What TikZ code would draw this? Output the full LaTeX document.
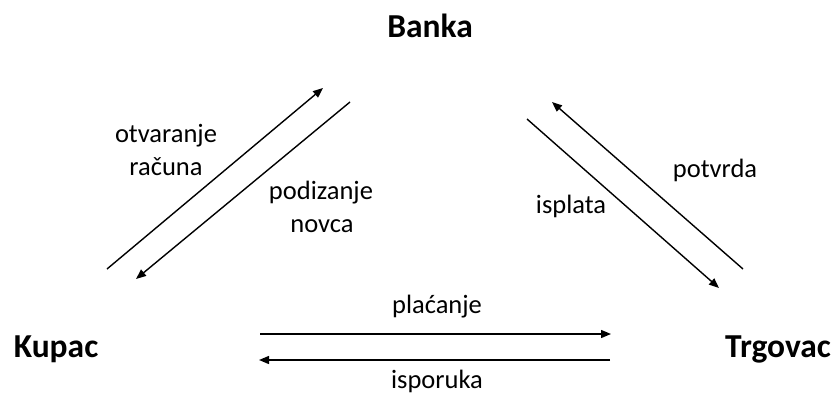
\documentclass[tikz,border=0pt]{standalone}
\usepackage{fontspec}
\setmainfont{Carlito}
\usetikzlibrary{arrows.meta}
\tikzset{
  party/.style={font=\fontsize{33.5}{36}\selectfont\bfseries, inner sep=0pt, anchor=base},
  lbl/.style={font=\fontsize{26.5}{30}\selectfont, inner sep=0pt, anchor=base},
  flow/.style={line width=1.4pt, -{Triangle[length=10pt,width=8pt]}}
}
\begin{document}
\begin{tikzpicture}[x=1pt,y=-1pt]
\useasboundingbox (0,0) rectangle (838,394);
% parties
\node[party] (banka) at (430,37) {Banka};
\node[party] (kupac) at (56,357) {Kupac};
\node[party, anchor=base west] (trgovac) at (725,357) {Trgovac};
% arrow end points
\coordinate (a1s) at (107,269);
\coordinate (a1e) at (323,88);
\coordinate (a2s) at (350,102);
\coordinate (a2e) at (136,279);
\coordinate (a3s) at (743,269);
\coordinate (a3e) at (552,102);
\coordinate (a4s) at (527,119);
\coordinate (a4e) at (719,288);
\coordinate (a5s) at (260,334);
\coordinate (a5e) at (611,334);
\coordinate (a6s) at (610,360);
\coordinate (a6e) at (259,360);
\draw[flow] (a1s) -- (a1e);
\draw[flow] (a2s) -- (a2e);
\draw[flow] (a3s) -- (a3e);
\draw[flow] (a4s) -- (a4e);
\draw[flow] (a5s) -- (a5e);
\draw[flow] (a6s) -- (a6e);
% labels
\node[lbl] (otv) at (166,142) {otvaranje};
\node[lbl] (rac) at (166,175) {računa};
\node[lbl] (pod) at (321,199) {podizanje};
\node[lbl] (nov) at (322,232) {novca};
\node[lbl] (pot) at (715,177) {potvrda};
\node[lbl] (isp) at (571,213) {isplata};
\node[lbl] (pla) at (437,313) {plaćanje};
\node[lbl] (ispo) at (437,388) {isporuka};
\end{tikzpicture}
\end{document}
